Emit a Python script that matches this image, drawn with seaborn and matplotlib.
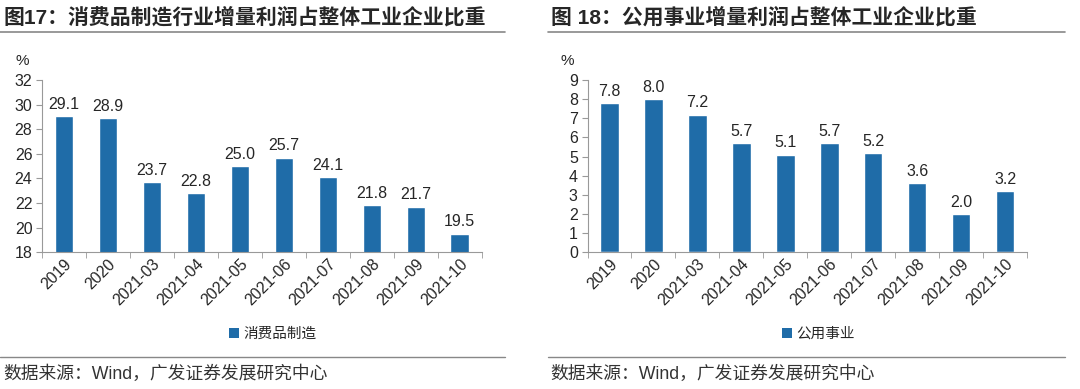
import pandas as pd
import seaborn as sns
import matplotlib.pyplot as plt
from matplotlib.lines import Line2D
from matplotlib.patches import Patch

# data
periods = ['2019', '2020', '2021-03', '2021-04', '2021-05', '2021-06',
           '2021-07', '2021-08', '2021-09', '2021-10']
consumer = [29.1, 28.9, 23.7, 22.8, 25.0, 25.7, 24.1, 21.8, 21.7, 19.5]
utility = [7.8, 8.0, 7.2, 5.7, 5.1, 5.7, 5.2, 3.6, 2.0, 3.2]

titles = ['图17：消费品制造行业增量利润占整体工业企业比重',
          '图 18：公用事业增量利润占整体工业企业比重']
series_names = ['消费品制造', '公用事业']
source = '数据来源：Wind，广发证券发展研究中心'

sns.set_style('white')
plt.rcParams['font.family'] = ['Liberation Sans', 'Noto Sans CJK SC', 'DejaVu Sans']

color = '#1F6CA8'
fig = plt.figure(figsize=(10.8, 3.89), dpi=100)

panels = [
    dict(vals=consumer, ylim=(18, 32), step=2, left=0.039, title_x=0.0, line=(0.0, 0.468)),
    dict(vals=utility, ylim=(0, 9), step=1, left=0.544, title_x=0.507, line=(0.507, 0.986)),
]

for i, p in enumerate(panels):
    df = pd.DataFrame({'period': periods, 'value': p['vals']})
    ax = fig.add_axes([p['left'], 0.352, 0.407, 0.442])
    sns.barplot(data=df, x='period', y='value', color=color, width=0.42,
                saturation=1, ax=ax)
    ax.set_ylim(*p['ylim'])
    ax.set_yticks(range(p['ylim'][0], p['ylim'][1] + 1, p['step']))
    ax.set_xlim(-0.5, len(periods) - 0.5)
    ax.bar_label(ax.containers[0], fmt='%.1f', padding=3, fontsize=11.5)
    ax.set_xlabel('')
    ax.set_ylabel('')
    for s in ['top', 'right']:
        ax.spines[s].set_visible(False)
    for s in ['left', 'bottom']:
        ax.spines[s].set_color('#999999')
        ax.spines[s].set_linewidth(0.8)
    ax.tick_params(axis='y', length=4, color='#999999', labelsize=11.5, pad=3, left=True)
    ax.tick_params(axis='x', which='major', length=0, labelsize=11.5, pad=3)
    ax.set_xticks([x - 0.5 for x in range(len(periods) + 1)], minor=True)
    ax.tick_params(axis='x', which='minor', length=4, color='#999999', bottom=True)
    plt.setp(ax.get_xticklabels(), rotation=45, ha='right', rotation_mode='anchor')
    ax.text(-0.045, 1.07, '%', transform=ax.transAxes, fontsize=11, ha='center', va='bottom')
    ax.grid(False)

    cx = p['left'] + 0.407 / 2
    fig.legend(handles=[Patch(facecolor=color, edgecolor='none')], labels=[series_names[i]],
               loc='center', bbox_to_anchor=(cx + 0.01, 0.142), frameon=False,
               fontsize=10.5, handlelength=0.7, handleheight=0.7, handletextpad=0.3)

    fig.text(p['title_x'] + 0.003, 0.955, titles[i], fontsize=15, fontweight='bold',
             ha='left', va='center')
    fig.add_artist(Line2D(list(p['line']), [0.918, 0.918], color='#888888', lw=1.2))
    fig.add_artist(Line2D(list(p['line']), [0.082, 0.082], color='#888888', lw=1.0))
    fig.text(p['title_x'] + 0.003, 0.038, source, fontsize=12.8, color='#333333',
             ha='left', va='center')

fig.savefig('out.png', dpi=100, facecolor='white')
